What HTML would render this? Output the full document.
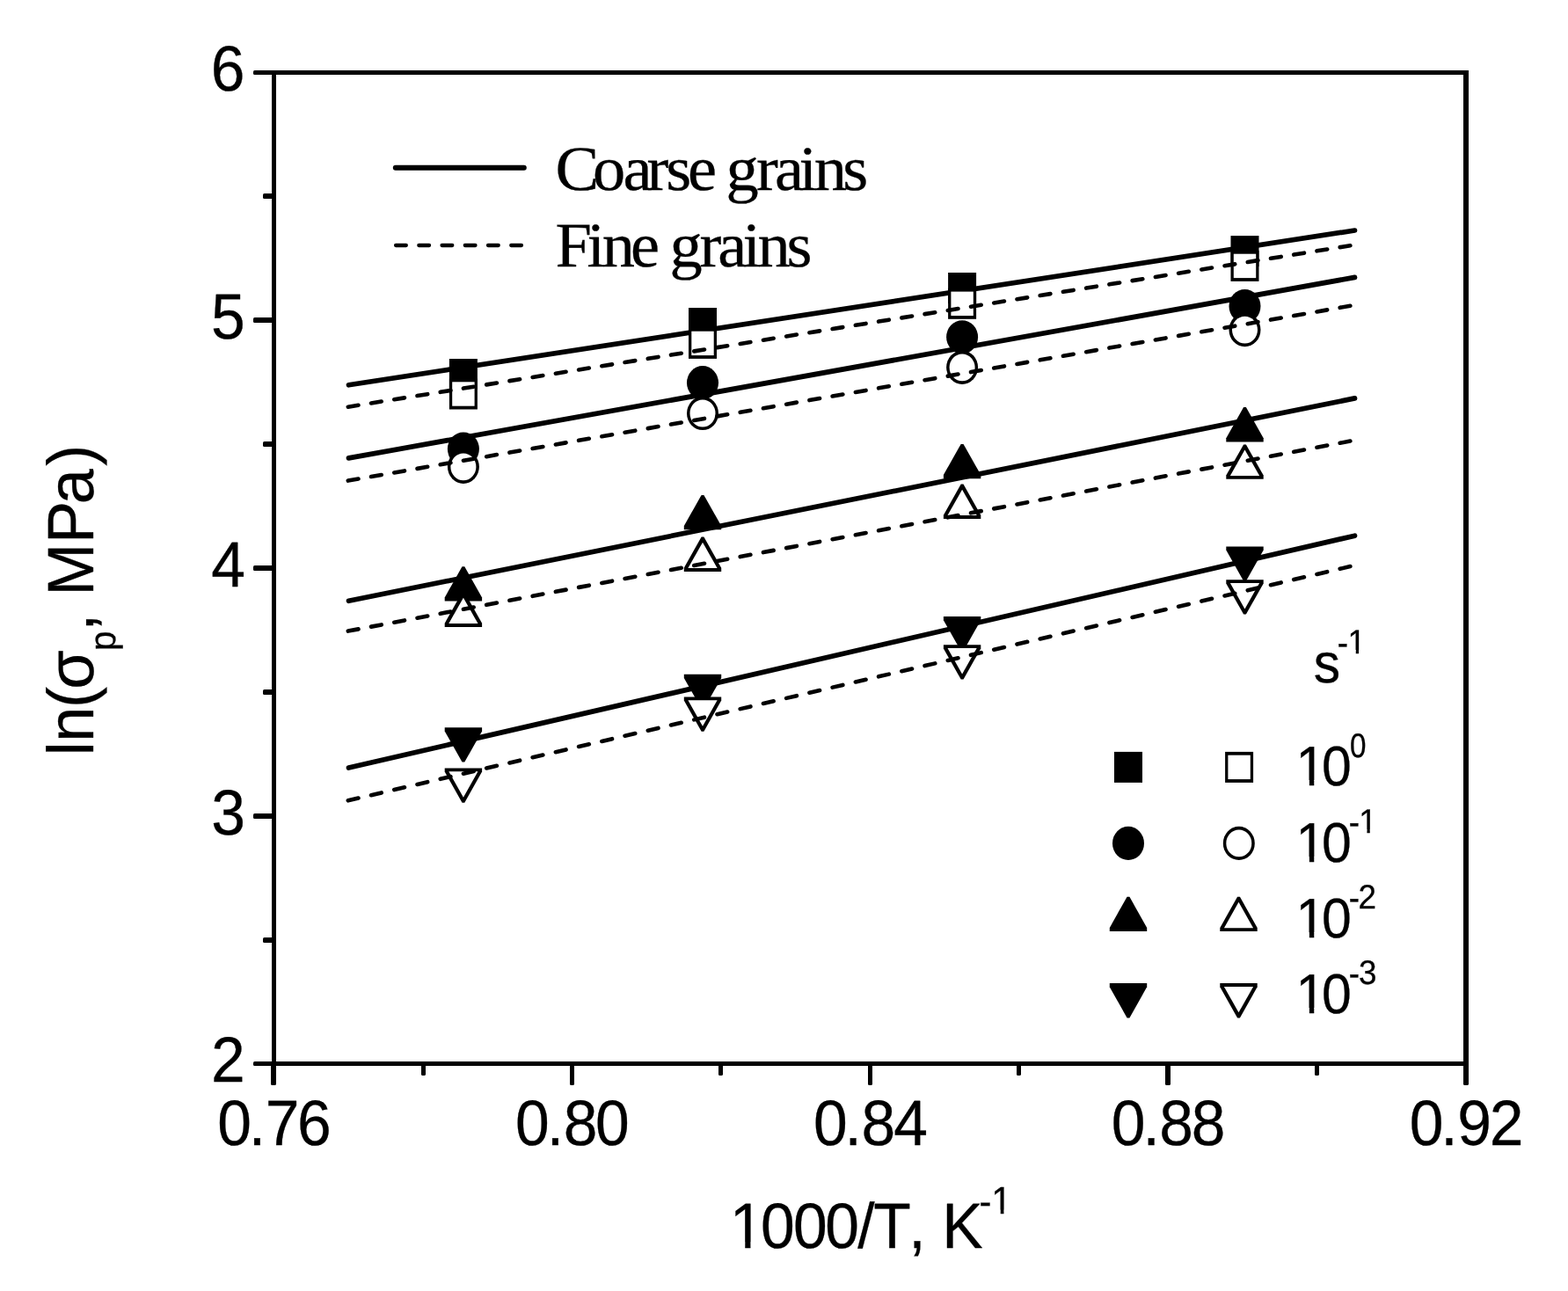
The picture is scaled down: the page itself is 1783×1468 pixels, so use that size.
<!DOCTYPE html>
<html lang="en">
<head>
<meta charset="utf-8">
<title>ln(σp, MPa) vs 1000/T, K-1</title>
<style>
html,body{margin:0;padding:0;background:#fff;}
body{width:1783px;height:1468px;}
svg{display:block;}
text{font-kerning:none;}
</style>
</head>
<body>
<svg width="1783" height="1468" viewBox="0 0 1783 1468">
<rect width="1783" height="1468" fill="#fff"/>
<defs><clipPath id="c1"><path clip-rule="evenodd" d="M-3000,-3000H3000V3000H-3000ZM3.56,-6.45H18.33V2H3.56ZM24.77,-6.45H39.16V2H24.77ZM313.65,-43.26H322.48V-37H313.65ZM326.34,-43.26H334.94V-37H326.34Z"/></clipPath><clipPath id="c2"><path clip-rule="evenodd" d="M-3000,-3000H3000V3000H-3000ZM42.51,-37.28H50.33V-31.4H42.51ZM53.74,-37.28H61.36V-31.4H53.74Z"/></clipPath><clipPath id="c3"><path clip-rule="evenodd" d="M-3000,-3000H3000V3000H-3000ZM3.11,-5.75H15.99V2H3.11ZM21.61,-5.75H34.16V2H21.61Z"/></clipPath><clipPath id="c4"><path clip-rule="evenodd" d="M-3000,-3000H3000V3000H-3000ZM3.11,-5.75H15.99V2H3.11ZM21.61,-5.75H34.16V2H21.61ZM76.86,-36.88H84.69V-31H76.86ZM88.1,-36.88H95.71V-31H88.1Z"/></clipPath><clipPath id="c5"><path clip-rule="evenodd" d="M-3000,-3000H3000V3000H-3000ZM3.11,-5.75H15.99V2H3.11ZM21.61,-5.75H34.16V2H21.61Z"/></clipPath><clipPath id="c6"><path clip-rule="evenodd" d="M-3000,-3000H3000V3000H-3000ZM3.11,-5.75H15.99V2H3.11ZM21.61,-5.75H34.16V2H21.61Z"/></clipPath></defs>
<g fill="none" stroke="#000" stroke-linecap="round">
<g stroke-width="5.7">
<line x1="396.5" y1="437.8" x2="1540.5" y2="262"/>
<line x1="396.5" y1="520.9" x2="1540.5" y2="315.4"/>
<line x1="396.5" y1="683.3" x2="1540.5" y2="452.9"/>
<line x1="396.5" y1="873" x2="1540.5" y2="609.2"/>
</g>
</g>
<g>
<rect x="510.9" y="408" width="32" height="35" fill="#000"/>
<rect x="783" y="350" width="32" height="35" fill="#000"/>
<rect x="1078.1" y="310" width="32" height="35" fill="#000"/>
<rect x="1399.5" y="268.1" width="32" height="35" fill="#000"/>
<ellipse cx="526.9" cy="510.6" rx="18" ry="19.1" fill="#000"/>
<ellipse cx="799" cy="435.2" rx="18" ry="19.1" fill="#000"/>
<ellipse cx="1094.1" cy="383.3" rx="18" ry="19.1" fill="#000"/>
<ellipse cx="1415.5" cy="348.1" rx="18" ry="19.1" fill="#000"/>
<polygon points="525.5,644.3 528.3,644.3 548.1,679.4 548.1,683.6 505.7,683.6 505.7,679.4" fill="#000"/>
<polygon points="797.6,562.9 800.4,562.9 820.2,598 820.2,602.2 777.8,602.2 777.8,598" fill="#000"/>
<polygon points="1092.7,504.9 1095.5,504.9 1115.3,540 1115.3,544.2 1072.9,544.2 1072.9,540" fill="#000"/>
<polygon points="1414.1,463.1 1416.9,463.1 1436.7,498.2 1436.7,502.4 1394.3,502.4 1394.3,498.2" fill="#000"/>
<polygon points="525.5,866.6 528.3,866.6 548.1,831.5 548.1,827.3 505.7,827.3 505.7,831.5" fill="#000"/>
<polygon points="797.6,806.1 800.4,806.1 820.2,771 820.2,766.8 777.8,766.8 777.8,771" fill="#000"/>
<polygon points="1092.7,740.3 1095.5,740.3 1115.3,705.2 1115.3,701 1072.9,701 1072.9,705.2" fill="#000"/>
<polygon points="1414.1,660.7 1416.9,660.7 1436.7,625.6 1436.7,621.4 1394.3,621.4 1394.3,625.6" fill="#000"/>
<rect x="510.9" y="430.5" width="32" height="35" fill="#000"/>
<rect x="514.2" y="434.3" width="25.4" height="27.4" fill="#fff"/>
<rect x="783" y="372.9" width="32" height="35" fill="#000"/>
<rect x="786.3" y="376.7" width="25.4" height="27.4" fill="#fff"/>
<rect x="1078.1" y="327.8" width="32" height="35" fill="#000"/>
<rect x="1081.4" y="331.6" width="25.4" height="27.4" fill="#fff"/>
<rect x="1399.5" y="284.9" width="32" height="35" fill="#000"/>
<rect x="1402.8" y="288.7" width="25.4" height="27.4" fill="#fff"/>
<ellipse cx="526.9" cy="530.8" rx="18" ry="19.1" fill="#000"/>
<ellipse cx="526.9" cy="530.8" rx="14.5" ry="15.4" fill="#fff"/>
<ellipse cx="799" cy="470" rx="18" ry="19.1" fill="#000"/>
<ellipse cx="799" cy="470" rx="14.5" ry="15.4" fill="#fff"/>
<ellipse cx="1094.1" cy="417.8" rx="18" ry="19.1" fill="#000"/>
<ellipse cx="1094.1" cy="417.8" rx="14.5" ry="15.4" fill="#fff"/>
<ellipse cx="1415.5" cy="375.1" rx="18" ry="19.1" fill="#000"/>
<ellipse cx="1415.5" cy="375.1" rx="14.5" ry="15.4" fill="#fff"/>
<polygon points="525.5,673.6 528.3,673.6 548.1,708.7 548.1,712.9 505.7,712.9 505.7,708.7" fill="#000"/>
<polygon points="526.9,679.67 543.5,709.1 510.3,709.1" fill="#fff"/>
<polygon points="797.6,610.6 800.4,610.6 820.2,645.7 820.2,649.9 777.8,649.9 777.8,645.7" fill="#000"/>
<polygon points="799,616.67 815.6,646.1 782.4,646.1" fill="#fff"/>
<polygon points="1092.7,550.6 1095.5,550.6 1115.3,585.7 1115.3,589.9 1072.9,589.9 1072.9,585.7" fill="#000"/>
<polygon points="1094.1,556.67 1110.7,586.1 1077.5,586.1" fill="#fff"/>
<polygon points="1414.1,505.5 1416.9,505.5 1436.7,540.6 1436.7,544.8 1394.3,544.8 1394.3,540.6" fill="#000"/>
<polygon points="1415.5,511.57 1432.1,541 1398.9,541" fill="#fff"/>
<polygon points="525.5,912.7 528.3,912.7 548.1,877.6 548.1,873.4 505.7,873.4 505.7,877.6" fill="#000"/>
<polygon points="526.9,906.63 543.5,877.2 510.3,877.2" fill="#fff"/>
<polygon points="797.6,831.7 800.4,831.7 820.2,796.6 820.2,792.4 777.8,792.4 777.8,796.6" fill="#000"/>
<polygon points="799,825.63 815.6,796.2 782.4,796.2" fill="#fff"/>
<polygon points="1092.7,772.5 1095.5,772.5 1115.3,737.4 1115.3,733.2 1072.9,733.2 1072.9,737.4" fill="#000"/>
<polygon points="1094.1,766.43 1110.7,737 1077.5,737" fill="#fff"/>
<polygon points="1414.1,698.6 1416.9,698.6 1436.7,663.5 1436.7,659.3 1394.3,659.3 1394.3,663.5" fill="#000"/>
<polygon points="1415.5,692.53 1432.1,663.1 1398.9,663.1" fill="#fff"/>
</g>
<g fill="none" stroke="#000" stroke-linecap="round" stroke-width="4.6">
<line x1="395.8" y1="462.7" x2="1540" y2="278.5" stroke-dasharray="11.8506 14.7171"/>
<line x1="395.8" y1="546.6" x2="1540" y2="347" stroke-dasharray="11.8767 14.7494"/>
<line x1="395.8" y1="717.6" x2="1540" y2="500.7" stroke-dasharray="11.9084 14.7888"/>
<line x1="395.8" y1="910.3" x2="1540" y2="643" stroke-dasharray="12.015 14.9212"/>
</g>
<line x1="449.8" y1="190.8" x2="595.8" y2="190.8" stroke="#000" stroke-width="6" stroke-linecap="round"/>
<line x1="450.1" y1="279" x2="596" y2="279" stroke="#000" stroke-width="4.3" stroke-linecap="round" stroke-dasharray="11.7 14.53"/>
<rect x="1267" y="854.9" width="32" height="35" fill="#000"/>
<rect x="1393.1" y="854.9" width="32" height="35" fill="#000"/>
<rect x="1396.4" y="858.7" width="25.4" height="27.4" fill="#fff"/>
<ellipse cx="1283" cy="958.9" rx="18" ry="19.1" fill="#000"/>
<ellipse cx="1408.8" cy="958.9" rx="18" ry="19.1" fill="#000"/>
<ellipse cx="1408.8" cy="958.9" rx="14.5" ry="15.4" fill="#fff"/>
<polygon points="1281.6,1019.8 1284.4,1019.8 1304.2,1054.9 1304.2,1059.1 1261.8,1059.1 1261.8,1054.9" fill="#000"/>
<polygon points="1407.1,1019.8 1409.9,1019.8 1429.7,1054.9 1429.7,1059.1 1387.3,1059.1 1387.3,1054.9" fill="#000"/>
<polygon points="1408.5,1025.87 1425.1,1055.3 1391.9,1055.3" fill="#fff"/>
<polygon points="1281.6,1157.4 1284.4,1157.4 1304.2,1122.3 1304.2,1118.1 1261.8,1118.1 1261.8,1122.3" fill="#000"/>
<polygon points="1407.1,1157.4 1409.9,1157.4 1429.7,1122.3 1429.7,1118.1 1387.3,1118.1 1387.3,1122.3" fill="#000"/>
<polygon points="1408.5,1151.33 1425.1,1121.9 1391.9,1121.9" fill="#fff"/>
<g fill="#000">
<rect x="309" y="80" width="5" height="1132"/>
<rect x="1664" y="80" width="6" height="1132"/>
<rect x="309" y="80" width="1361" height="5"/>
<rect x="309" y="1207" width="1361" height="5"/>
<rect x="288" y="1207" width="23" height="5" rx="1.6"/>
<rect x="299" y="1066" width="12" height="6" rx="1.6"/>
<rect x="288" y="925" width="23" height="6" rx="1.6"/>
<rect x="299" y="784" width="12" height="6" rx="1.6"/>
<rect x="288" y="643" width="23" height="6" rx="1.6"/>
<rect x="299" y="502" width="12" height="6" rx="1.6"/>
<rect x="288" y="361" width="23" height="6" rx="1.6"/>
<rect x="299" y="220" width="12" height="6" rx="1.6"/>
<rect x="288" y="80" width="23" height="5" rx="1.6"/>
<rect x="308" y="1209" width="6" height="25" rx="1.6"/>
<rect x="479" y="1209" width="5" height="14" rx="1.6"/>
<rect x="648" y="1209" width="5" height="25" rx="1.6"/>
<rect x="817" y="1209" width="5" height="14" rx="1.6"/>
<rect x="987" y="1209" width="5" height="25" rx="1.6"/>
<rect x="1156" y="1209" width="5" height="14" rx="1.6"/>
<rect x="1325" y="1209" width="6" height="25" rx="1.6"/>
<rect x="1495" y="1209" width="5" height="14" rx="1.6"/>
<rect x="1664" y="1209" width="6" height="25" rx="1.6"/>
</g>
<g fill="#000" stroke="#000" stroke-width="0.3" text-rendering="geometricPrecision">
<text transform="translate(239.94 1230.3) scale(0.955 1)" x="0" y="0" font-family='"Liberation Sans", sans-serif' font-size="72.9">2</text>
<text transform="translate(240.14 948.55) scale(0.955 1)" x="0" y="0" font-family='"Liberation Sans", sans-serif' font-size="72.9">3</text>
<text transform="translate(240.16 666.8) scale(0.955 1)" x="0" y="0" font-family='"Liberation Sans", sans-serif' font-size="72.9">4</text>
<text transform="translate(240.01 385.05) scale(0.955 1)" x="0" y="0" font-family='"Liberation Sans", sans-serif' font-size="72.9">5</text>
<text transform="translate(239.7 103.3) scale(0.955 1)" x="0" y="0" font-family='"Liberation Sans", sans-serif' font-size="72.9">6</text>
<text transform="translate(247.24 1302.4) scale(0.955 1)" x="0 37.32 57.14 95.04" y="0 0 0 0" font-family='"Liberation Sans", sans-serif' font-size="72.9">0.76</text>
<text transform="translate(586.09 1302.4) scale(0.955 1)" x="0 37.32 57.17 95.29" y="0 0 0 0" font-family='"Liberation Sans", sans-serif' font-size="72.9">0.80</text>
<text transform="translate(924.94 1302.4) scale(0.955 1)" x="0 37.32 57.17 95.52" y="0 0 0 0" font-family='"Liberation Sans", sans-serif' font-size="72.9">0.84</text>
<text transform="translate(1263.79 1302.4) scale(0.955 1)" x="0 37.32 57.17 95.29" y="0 0 0 0" font-family='"Liberation Sans", sans-serif' font-size="72.9">0.88</text>
<text transform="translate(1602.64 1302.4) scale(0.955 1)" x="0 37.32 57.19 95.29" y="0 0 0 0" font-family='"Liberation Sans", sans-serif' font-size="72.9">0.92</text>
<text transform="translate(829.77 1419) scale(0.955 1)" x="0 36.93 75.52 113.48 152.28 171.29 213.1 234.97 252.93 297.01 311.52" y="0 0 0 0 0 0 0 0 0 -37.7 -39" font-family='"Liberation Sans", sans-serif' font-size="72.9" clip-path="url(#c1)">1000/T, K<tspan x="297.01 311.52" y="-37.7 -39" font-size="43.6">-1</tspan></text>
<text transform="translate(106 859.17) rotate(-90) scale(0.97 1)" x="0 15.91 55.93 77.85 122.81 145.68 167.97 187.17 248.69 294.85 339.53" y="0 0 0 0 25.4 0 0 0 0 0 0" font-family='"Liberation Sans", sans-serif' font-size="74.3">ln(σ<tspan x="122.81" y="25.4" font-size="41.7">p</tspan><tspan x="145.68 167.97 187.17 248.69 294.85 339.53" y="0 0 0 0 0 0">, MPa)</tspan></text>
<text transform="translate(631.59 215.6) scale(1.03 1)" x="0 41.11 74.59 100.77 122.07 145.94 167.63 188.25 221.84 242.12 268.83 285.63 317.27" y="0 0 0 0 0 0 0 0 0 0 0 0 0" font-family='"Liberation Serif", serif' font-size="72.3">Coarse grains</text>
<text transform="translate(631.51 303) scale(1.03 1)" x="0 35.07 51.63 83.05 104.74 126.14 159.29 179.43 206.81 223.38 255.26" y="0 0 0 0 0 0 0 0 0 0 0" font-family='"Liberation Serif", serif' font-size="72.3">Fine grains</text>
<text transform="translate(1493.72 776.4) scale(0.955 1)" x="0 28.37 40.62" y="0 -32.2 -33.4" font-family='"Liberation Sans", sans-serif' font-size="63.6" clip-path="url(#c2)">s<tspan x="28.37 40.62" y="-32.2 -33.4" font-size="38.6">-1</tspan></text>
<text transform="translate(1473.61 892.8) scale(0.955 1)" x="0 30.89 64.31" y="0 0 -32.1" font-family='"Liberation Sans", sans-serif' font-size="63.6" clip-path="url(#c3)">10<tspan x="64.31" y="-32.1" font-size="38.6" textLength="19.32" lengthAdjust="spacingAndGlyphs">0</tspan></text>
<text transform="translate(1473.61 980.1) scale(0.955 1)" x="0 30.89 63.04 74.98" y="0 0 -31.8 -33" font-family='"Liberation Sans", sans-serif' font-size="63.6" clip-path="url(#c4)">10<tspan x="63.04 74.98" y="-31.8 -33" font-size="38.6">-1</tspan></text>
<text transform="translate(1473.61 1066) scale(0.955 1)" x="0 30.89 63.04 74.18" y="0 0 -31.8 -33" font-family='"Liberation Sans", sans-serif' font-size="63.6" clip-path="url(#c5)">10<tspan x="63.04 74.18" y="-31.8 -33" font-size="38.6">-2</tspan></text>
<text transform="translate(1473.61 1151.8) scale(0.955 1)" x="0 30.89 63.04 74.82" y="0 0 -31.8 -33" font-family='"Liberation Sans", sans-serif' font-size="63.6" clip-path="url(#c6)">10<tspan x="63.04 74.82" y="-31.8 -33" font-size="38.6">-3</tspan></text>
</g>
</svg>
</body>
</html>
